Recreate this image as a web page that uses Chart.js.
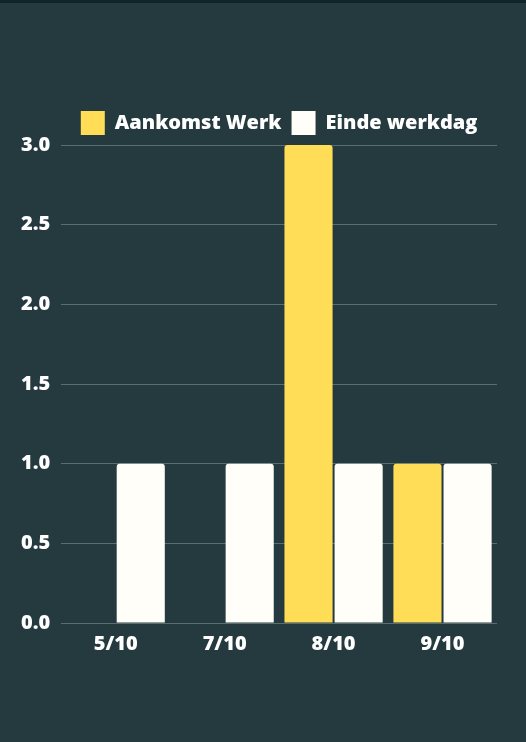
<!DOCTYPE html>
<html>
<head>
<meta charset="utf-8">
<script src="https://cdn.jsdelivr.net/npm/chart.js@4/dist/chart.umd.min.js"></script>
<style>
  html, body { margin: 0; padding: 0; background: #243a3f; }
  body { border-top: 3px solid #10252a; width: 526px; height: 739px; overflow: hidden; }
  #wrap { width: 526px; height: 739px; }
</style>
</head>
<body>
<div id="wrap"><canvas id="myChart"></canvas></div>
<script>
'use-strict';

// categories (dates) and series values
var labels = ['5/10', '7/10', '8/10', '9/10'];
var aankomst = [null, null, 3, 1];
var einde = [1, 1, 1, 1];
var yTicks = [0, 0.5, 1, 1.5, 2, 2.5, 3];

var font = { family: "'Open Sans'", weight: 800, size: 20 };

var ctx = document.getElementById('myChart').getContext('2d');
var chart = new Chart(ctx, {
  type: 'bar',
  data: {
    labels: labels,
    datasets: [
      {
        label: 'Aankomst Werk',
        data: aankomst,
        backgroundColor: '#ffdd57',
        borderRadius: 3,
        categoryPercentage: 0.92,
        barPercentage: 0.96
      },
      {
        label: 'Einde werkdag',
        data: einde,
        backgroundColor: '#fffef8',
        borderRadius: 3,
        categoryPercentage: 0.92,
        barPercentage: 0.96
      }
    ]
  },
  options: {
    responsive: true,
    maintainAspectRatio: false,
    animation: false,
    layout: { padding: { left: 10, right: 29, top: 98, bottom: 85 } },
    plugins: {
      tooltip: { enabled: false },
      legend: {
        fullSize: false,
        labels: {
          color: '#ffffff',
          font: font,
          boxWidth: 24,
          boxHeight: 24,
          padding: 10
        }
      }
    },
    scales: {
      x: {
        grid: { display: false },
        border: { display: false },
        ticks: { color: '#ffffff', font: font, padding: 1 }
      },
      y: {
        min: 0,
        max: 3,
        afterBuildTicks: function(axis) {
          axis.ticks = yTicks.map(function(v) { return { value: v }; });
        },
        grid: { color: '#5a6d70', drawTicks: false, lineWidth: 1 },
        border: { display: false },
        ticks: {
          color: '#ffffff',
          font: font,
          padding: 11,
          callback: function(v) { return v.toFixed(1); }
        }
      }
    }
  }
});
</script>
</body>
</html>
